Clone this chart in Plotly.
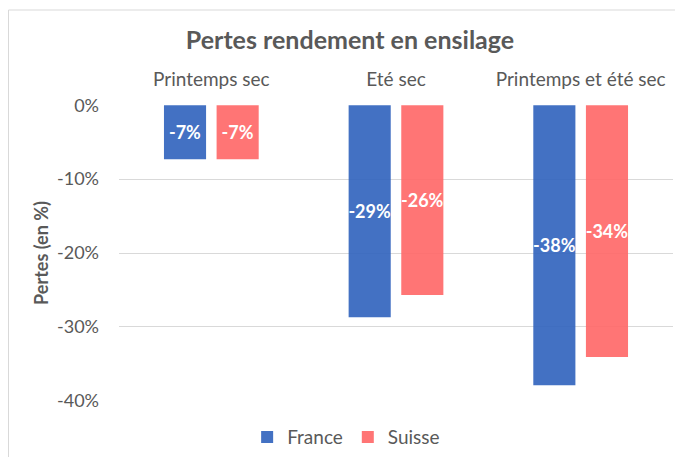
import plotly.graph_objects as go

categories = ["Printemps sec", "Eté sec", "Printemps et été sec"]
france = [-7.3, -28.7, -37.9]
suisse = [-7.3, -25.7, -34.1]
yticks = [0, -10, -20, -30, -40]
ytick_labels = ["0%", "-10%", "-20%", "-30%", "-40%"]

FONT = "Lato"
GREY = "#595959"
# the page body adds an 8px offset, so the figure is laid out 8px smaller
W, H = 675, 449

fig = go.Figure()
fig.add_trace(go.Bar(
    name="France", x=categories, y=france,
    marker=dict(color="rgba(47,98,189,0.9)", line=dict(width=0)),
    texttemplate="%{y:.0f}%", textposition="inside", insidetextanchor="middle",
    constraintext="none", textangle=0,
    textfont=dict(family=FONT, size=18, color="white", weight="bold"),
))
fig.add_trace(go.Bar(
    name="Suisse", x=categories, y=suisse,
    marker=dict(color="rgba(255,102,102,0.9)", line=dict(width=0)),
    texttemplate="%{y:.0f}%", textposition="inside", insidetextanchor="middle",
    constraintext="none", textangle=0,
    textfont=dict(family=FONT, size=18, color="white", weight="bold"),
))

fig.update_layout(
    width=W, height=H,
    margin=dict(l=111, r=10, t=97, b=56, autoexpand=False),
    paper_bgcolor="white", plot_bgcolor="white",
    font=dict(family=FONT, color=GREY, size=19),
    barmode="group", bargap=0.43, bargroupgap=0.2,
    title=dict(text="<b>Pertes rendement en ensilage</b>", x=342 / W, xref="container",
               xanchor="center", y=1 - 32 / H, yref="container", yanchor="middle",
               font=dict(family=FONT, size=25, color=GREY)),
    showlegend=True,
    legend=dict(orientation="h", x=0.41, xanchor="center", y=-0.122, yanchor="middle",
                font=dict(family=FONT, size=19, color=GREY), traceorder="normal",
                itemwidth=30),
    hovermode=False,
)
fig.update_xaxes(side="top", showgrid=False, showline=False, ticks="", automargin=False,
                 ticklabelstandoff=14, tickfont=dict(family=FONT, size=19, color=GREY))
fig.update_yaxes(range=[-40.05, 0.05], tickvals=yticks, ticktext=ytick_labels,
                 showgrid=True, gridcolor="#D9D9D9", gridwidth=1, zeroline=False,
                 showline=False, ticks="", ticklabelstandoff=19, automargin=False,
                 tickfont=dict(family=FONT, size=18, color=GREY),
                 title=dict(text="<b>Pertes (en %)</b>", standoff=3,
                            font=dict(family=FONT, size=18, color=GREY)))
fig.add_shape(type="rect", xref="paper", yref="paper",
              x0=(0.5 - 111) / 554, x1=1.2, y0=-0.5, y1=1 + (97 - 2) / 296,
              line=dict(color="#D9D9D9", width=1), fillcolor="rgba(0,0,0,0)", layer="below")

fig.write_html("out.html")
